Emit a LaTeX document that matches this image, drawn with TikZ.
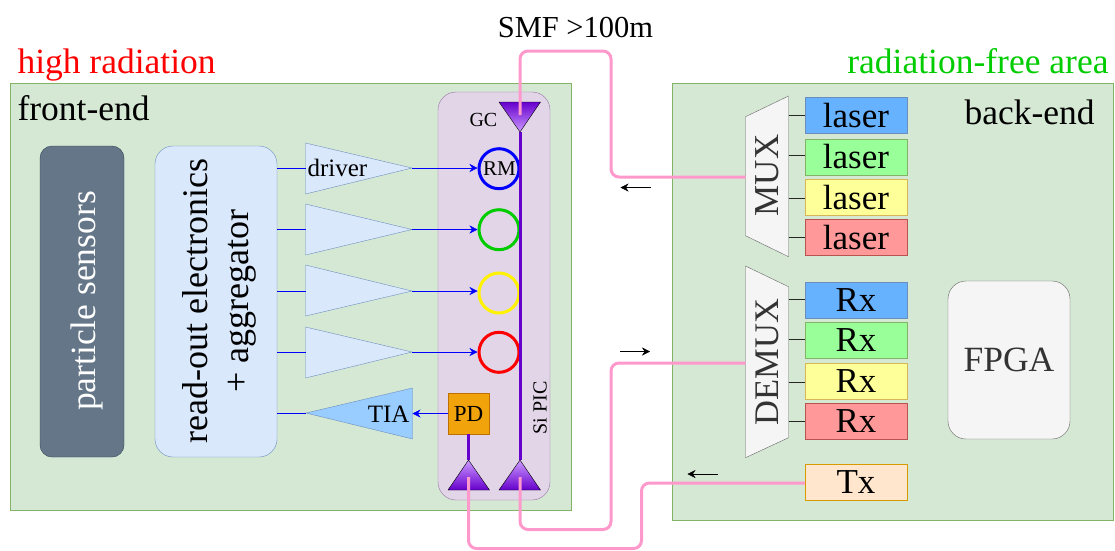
\documentclass[tikz,border=0pt]{standalone}
\usepackage{fontspec}
\setmainfont{Liberation Serif}
\usetikzlibrary{arrows.meta}
\definecolor{gfill}{HTML}{D5E8D4}\definecolor{gline}{HTML}{82B366}
\definecolor{bfill}{HTML}{DAE8FC}\definecolor{bline}{HTML}{6C8EBF}
\definecolor{pfill}{HTML}{E1D5E7}\definecolor{pline}{HTML}{9673A6}
\definecolor{fib}{HTML}{FF99CC}\definecolor{wg}{HTML}{6600CC}\definecolor{wgl}{HTML}{CC99FF}
\definecolor{grayf}{HTML}{F5F5F5}\definecolor{grayl}{HTML}{666666}\definecolor{grayt}{HTML}{333333}
\definecolor{blu}{HTML}{66B2FF}\definecolor{grn}{HTML}{99FF99}\definecolor{yel}{HTML}{FFFF99}\definecolor{rdd}{HTML}{FF9999}
\definecolor{tiaf}{HTML}{99CCFF}\definecolor{pdf}{HTML}{F0A30A}\definecolor{pdl}{HTML}{BD7000}
\definecolor{txf}{HTML}{FFE6CC}\definecolor{txl}{HTML}{D79B00}
\definecolor{sens}{HTML}{647687}\definecolor{sensl}{HTML}{314354}
\definecolor{radfree}{HTML}{00CC00}\definecolor{yell}{HTML}{D6B656}\definecolor{redl}{HTML}{B85450}
\newcommand{\fs}[1]{\fontsize{#1}{#1}\selectfont}
\tikzset{
  x=1pt,y=-1pt,line width=1pt,
  area/.style={draw=gline,fill=gfill,anchor=north west,inner sep=0pt,outer sep=0pt},
  chan/.style={draw=#1,inner sep=0pt,outer sep=0pt,minimum width=102pt,minimum height=36pt,font=\fs{35}},
  amp/.style={draw=bline,fill=bfill},
  ring/.style={circle,draw=#1,line width=3pt,minimum size=40pt,inner sep=0pt,outer sep=1.5pt},
  sig/.style={blue,-{Stealth[length=8pt,width=8pt]}},
  wire/.style={draw=blue},
  dark/.style={draw=black!70!gray},
  fiber/.style={draw=fib,line width=3pt,rounded corners=8pt},
  guide/.style={draw=wg,line width=3pt},
  dir/.style={black,-{Stealth[length=8pt,width=8pt]}},
  gc/.style={draw=black},
  label/.style={inner sep=0pt,outer sep=0pt,text=black},
}
\begin{document}
\begin{tikzpicture}
\useasboundingbox (0,0) rectangle (1115,550);
% areas
\node[area,minimum width=561pt,minimum height=427pt] (fe) at (10,83) {};
\node[area,minimum width=441pt,minimum height=437pt] (be) at (672.5,83) {};
\node[draw=pline,fill=pfill,rounded corners=18pt,minimum width=112pt,minimum height=408pt,inner sep=0pt,outer sep=0pt] (pic) at (494,296) {};
\node[draw=sensl,fill=sens,rounded corners=12pt,minimum width=84pt,minimum height=311pt,inner sep=0pt] (sensors) at (82,301.5) {};
\node[rotate=90,text=white,font=\fs{35.5}] (senst) at (87,301) {particle sensors};
\node[draw=bline,fill=bfill,rounded corners=18pt,minimum width=122pt,minimum height=311pt,inner sep=0pt,outer sep=0pt] (readout) at (216,301.5) {};
\node[rotate=90,align=center,font=\fontsize{36}{41}\selectfont,text=black] (readt) at (219,301) {read-out electronics\\+ aggregator};
% titles
\node[label,font=\fs{35.5},text=red,anchor=base west] (hr) at (17.5,73) {high radiation};
\node[label,font=\fs{35.5},text=radfree,anchor=base east] (rf) at (1108.5,73) {radiation-free area};
\node[label,font=\fs{35.5},anchor=base west] (fet) at (17.5,120) {front-end};
\node[label,font=\fs{35.5},anchor=base west] (bet) at (964.5,124) {back-end};
\node[label,font=\fs{30.5},anchor=base] (smf) at (575.5,37) {SMF >100m};
% amplifiers
\coordinate (a1t) at (305.5,143);\coordinate (a1b) at (305.5,194);\coordinate (a1o) at (412,168);\coordinate (a1i) at (305.5,168);
\coordinate (a2t) at (305.5,204);\coordinate (a2b) at (305.5,255);\coordinate (a2o) at (412,229.5);\coordinate (a2i) at (305.5,229.5);
\coordinate (a3t) at (305.5,265);\coordinate (a3b) at (305.5,316);\coordinate (a3o) at (412,291);\coordinate (a3i) at (305.5,291);
\coordinate (a4t) at (305.5,327);\coordinate (a4b) at (305.5,378);\coordinate (a4o) at (412,352);\coordinate (a4i) at (305.5,352);
\path[amp] (a1t)--(a1o)--(a1b)--cycle;
\path[amp] (a2t)--(a2o)--(a2b)--cycle;
\path[amp] (a3t)--(a3o)--(a3b)--cycle;
\path[amp] (a4t)--(a4o)--(a4b)--cycle;
\node[label,font=\fs{25},anchor=base west] (drv) at (307.5,176) {driver};
% TIA
\coordinate (tiaa) at (306,413);\coordinate (tiat) at (412.5,388);\coordinate (tiab) at (412.5,439);\coordinate (tiar) at (412.5,413.5);
\path[draw=bline,fill=tiaf] (tiaa)--(tiat)--(tiab)--cycle;
\node[label,font=\fs{25},anchor=base east] (tia) at (409.5,422) {TIA};
% links from read-out
\coordinate (r1) at (277,168);\coordinate (r2) at (277,229.5);\coordinate (r3) at (277,291);\coordinate (r4) at (277,352);\coordinate (r5) at (277,413);
\draw[wire] (r1)--(a1i);
\draw[wire] (r2)--(a2i);
\draw[wire] (r3)--(a3i);
\draw[wire] (r4)--(a4i);
\draw[wire] (r5)--(tiaa);
% rings
\node[ring=blue] (rm1) at (499,168.7) {};
\node[ring=radfree] (rm2) at (499,229.7) {};
\node[ring=yellow] (rm3) at (499,293) {};
\node[ring=red] (rm4) at (499,352.3) {};
\node[label,font=\fs{21}] (rmt) at (499.5,169) {RM};
\draw[sig] (a1o)--(a1o-|rm1.west);
\draw[sig] (a2o)--(a2o-|rm2.west);
\draw[sig] (a3o)--(a3o-|rm3.west);
\draw[sig] (a4o)--(a4o-|rm4.west);
% PD
\node[draw=pdl,fill=pdf,minimum size=41pt,inner sep=0pt,outer sep=0pt,font=\fs{23},text=black] (pd) at (468.5,413.5) {PD};
\draw[sig] (pd.west)--(tiar);
% waveguides and couplers
\coordinate (gca) at (520,132);\coordinate (gcl) at (499,102);\coordinate (gcr) at (540.5,102);
\coordinate (c1a) at (520,460);\coordinate (c1l) at (499,490);\coordinate (c1r) at (540.5,490);
\coordinate (c2a) at (468.5,460);\coordinate (c2l) at (448,490);\coordinate (c2r) at (489.5,490);
\draw[guide] (gca)--(c1a);
\draw[guide] (pd.south)--(c2a);
\path[gc,top color=wg,bottom color=wgl] (gcl)--(gcr)--(gca)--cycle;
\path[gc,top color=wgl,bottom color=wg] (c1a)--(c1r)--(c1l)--cycle;
\path[gc,top color=wgl,bottom color=wg] (c2a)--(c2r)--(c2l)--cycle;
\node[label,font=\fs{20},anchor=base west] (gct) at (469.5,126) {GC};
\node[label,font=\fs{20},rotate=90] (si) at (540,408) {Si PIC};
% MUX / DEMUX
\coordinate (mtl) at (745.5,116.7);\coordinate (mtr) at (788.5,96);\coordinate (mbr) at (788.5,256.7);\coordinate (mbl) at (745.5,235.7);
\coordinate (dtl) at (745.5,266);\coordinate (dtr) at (788.5,286.7);\coordinate (dbr) at (788.5,437.7);\coordinate (dbl) at (745.5,457.7);
\path[draw=grayl,fill=grayf] (mtl)--(mtr)--(mbr)--(mbl)--cycle;
\path[draw=grayl,fill=grayf] (dtl)--(dtr)--(dbr)--(dbl)--cycle;
\node[label,text=grayt,font=\fs{35},rotate=90] (muxt) at (767.5,175.5) {MUX};
\node[label,text=grayt,font=\fs{34.5},rotate=90] (dmxt) at (767.5,362.3) {DEMUX};
% channels
\node[chan=bline,fill=blu] (l1) at (856,115.5) {laser};
\node[chan=gline,fill=grn] (l2) at (856,156.7) {laser};
\node[chan=yell,fill=yel] (l3) at (856,197.5) {laser};
\node[chan=redl,fill=rdd] (l4) at (856,237.5) {laser};
\node[chan=bline,fill=blu] (x1) at (856,299.7) {Rx};
\node[chan=gline,fill=grn] (x2) at (856,340.2) {Rx};
\node[chan=yell,fill=yel] (x3) at (856,381) {Rx};
\node[chan=redl,fill=rdd] (x4) at (856,421.2) {Rx};
\node[chan=txl,fill=txf] (tx) at (856,482.5) {Tx};
\foreach \n/\y in {1/115.5,2/155,3/197.7,4/237}{\coordinate (ml\n) at (788.5,\y);}
\foreach \n/\y in {1/299,2/338.7,3/381.7,4/421}{\coordinate (dl\n) at (788.5,\y);}
\foreach \n in {1,2,3,4}{\draw[dark] (ml\n)--(ml\n-|l\n.west); \draw[dark] (dl\n)--(dl\n-|x\n.west);}
\node[draw=grayl,fill=grayf,rounded corners=18pt,minimum width=122pt,minimum height=158pt,inner sep=0pt,text=grayt,font=\fs{35.5}] (fpga) at (1009,360) {FPGA};
% fibres
\coordinate (fa) at (520,115);\coordinate (fb) at (520,51);\coordinate (fc) at (611,51);\coordinate (fd) at (611,177);\coordinate (fe1) at (745.5,177);
\coordinate (ga) at (520,477);\coordinate (gb) at (520,529.5);\coordinate (gc1) at (611,529.5);\coordinate (gd) at (611,363);\coordinate (ge) at (745.5,363);
\coordinate (ha) at (468.5,477);\coordinate (hb) at (468.5,548.5);\coordinate (hc) at (641.5,548.5);\coordinate (hd) at (641.5,483);
\draw[fiber] (fa)--(fb)--(fc)--(fd)--(fe1);
\draw[fiber] (ga)--(gb)--(gc1)--(gd)--(ge);
\draw[fiber] (ha)--(hb)--(hc)--(hd)--(hd-|tx.west);
% direction arrows
\coordinate (d1a) at (650.5,187.5);\coordinate (d1b) at (620.5,187.5);
\coordinate (d2a) at (620,351.5);\coordinate (d2b) at (650,351.5);
\coordinate (d3a) at (718,474);\coordinate (d3b) at (687.5,474);
\draw[dir] (d1a)--(d1b);
\draw[dir] (d2a)--(d2b);
\draw[dir] (d3a)--(d3b);
\end{tikzpicture}
\end{document}
